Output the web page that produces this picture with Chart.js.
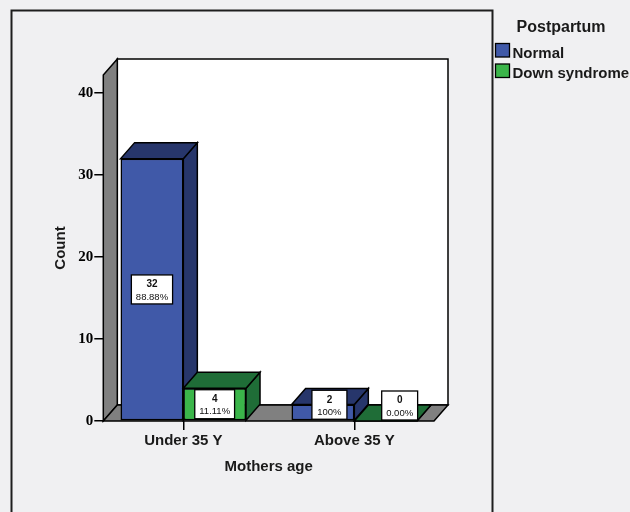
<!DOCTYPE html>
<html>
<head>
<meta charset="utf-8">
<script src="https://cdn.jsdelivr.net/npm/chart.js@4.4.1/dist/chart.umd.min.js"></script>
<style>
  html, body { margin: 0; padding: 0; background: #f0f0f2; }
  #wrap { width: 630px; height: 512px; }
</style>
</head>
<body>
<div id="wrap"><canvas id="c" width="630" height="512"></canvas></div>
<script>
// Counts of postpartum outcome by mother's age group
const categories = ['Under 35 Y', 'Above 35 Y'];
const seriesNames = ['Normal', 'Down syndrome'];
const normalCounts = [32, 2];
const downCounts = [4, 0];
const normalPercents = ['88.88%', '100%'];
const downPercents = ['11.11%', '0.00%'];
const yTicks = [0, 10, 20, 30, 40];
const legendTitle = 'Postpartum';
const xTitle = 'Mothers age';
const yTitle = 'Count';

// Styling
const FRONT = ['#4059a8', '#3bb54a'];
const SHADE = ['#27366b', '#1f6d37'];
const WALL = '#808080';
const BG = '#f0f0f2';
const DX = 14, DY = 16;           // depth of the pseudo-3D extrusion
const SANS = '"Liberation Sans", Arial, sans-serif';
const SERIF = '"Liberation Serif", "Times New Roman", serif';

function poly(ctx, pts, fill) {
  ctx.beginPath();
  ctx.moveTo(pts[0][0], pts[0][1]);
  for (let k = 1; k < pts.length; k++) ctx.lineTo(pts[k][0], pts[k][1]);
  ctx.closePath();
  ctx.fillStyle = fill;
  ctx.fill();
  ctx.stroke();
}

// Page background and outer frame
const framePlugin = {
  id: 'frame',
  beforeDraw(chart) {
    const ctx = chart.ctx;
    ctx.save();
    ctx.fillStyle = BG;
    ctx.fillRect(0, 0, chart.width, chart.height);
    ctx.strokeStyle = '#1e1e1e';
    ctx.lineWidth = 2;
    ctx.strokeRect(11.5, 10.5, 481, 600);
    ctx.restore();
  }
};

// Back wall, side wall and floor of the 3D box
const wallsPlugin = {
  id: 'walls',
  beforeDatasetsDraw(chart) {
    const ctx = chart.ctx;
    const { left, right, top, bottom } = chart.chartArea;
    ctx.save();
    ctx.strokeStyle = '#000';
    ctx.lineWidth = 1.5;
    ctx.lineJoin = 'miter';
    poly(ctx, [[left + DX, top - DY], [right + DX, top - DY], [right + DX, bottom - DY], [left + DX, bottom - DY]], '#ffffff');
    poly(ctx, [[left, top], [left + DX, top - DY], [left + DX, bottom - DY], [left, bottom]], WALL);
    poly(ctx, [[left, bottom], [left + DX, bottom - DY], [right + DX, bottom - DY], [right, bottom]], WALL);
    ctx.restore();
  }
};

// Top and side faces of every bar, then value boxes
const barsPlugin = {
  id: 'bars3d',
  afterDatasetsDraw(chart) {
    const ctx = chart.ctx;
    const metas = chart.data.datasets.map((_, d) => chart.getDatasetMeta(d));
    ctx.save();
    ctx.strokeStyle = '#000';
    ctx.lineWidth = 1.5;
    ctx.lineJoin = 'miter';
    for (let i = 0; i < categories.length; i++) {
      metas.forEach((meta, d) => {
        const el = meta.data[i];
        const { x, y, base, width } = el.getProps(['x', 'y', 'base', 'width'], true);
        const l = x - width / 2, r = x + width / 2;
        const shade = chart.data.datasets[d].shadeColor;
        poly(ctx, [[r, y], [r + DX, y - DY], [r + DX, base - DY], [r, base]], shade);
        poly(ctx, [[l, y], [l + DX, y - DY], [r + DX, y - DY], [r, y]], shade);
        if (base - y > 0.5) el.draw(ctx);
      });
    }
    // value boxes
    ctx.textAlign = 'center';
    ctx.textBaseline = 'middle';
    metas.forEach((meta, d) => {
      const ds = chart.data.datasets[d];
      meta.data.forEach((el, i) => {
        const { x, y, base } = el.getProps(['x', 'y', 'base'], true);
        const countText = String(ds.data[i].y);
        const pctText = ds.percents[i];
        ctx.font = 'bold 10px ' + SANS;
        const w1 = ctx.measureText(countText).width;
        ctx.font = '9.5px ' + SANS;
        const w2 = ctx.measureText(pctText).width;
        const w = Math.max(35, Math.max(w1, w2) + 9);
        const h = 29;
        const face = base - y;
        const cx = x + DX * Math.max(0, 1 - face / h);
        const cy = Math.min((y + base) / 2, base - 1 - h / 2);
        ctx.fillStyle = '#ffffff';
        ctx.lineWidth = 1.3;
        ctx.fillRect(cx - w / 2, cy - h / 2, w, h);
        ctx.strokeRect(cx - w / 2, cy - h / 2, w, h);
        ctx.fillStyle = '#111';
        ctx.font = 'bold 10px ' + SANS;
        ctx.fillText(countText, cx, cy - 5);
        ctx.font = '9.5px ' + SANS;
        ctx.fillText(pctText, cx, cy + 7.5);
      });
    });
    ctx.restore();
  }
};

// Legend at the top right
const legendPlugin = {
  id: 'sideLegend',
  afterDraw(chart) {
    const ctx = chart.ctx;
    ctx.save();
    ctx.fillStyle = '#1a1a1a';
    ctx.textBaseline = 'alphabetic';
    ctx.textAlign = 'center';
    ctx.font = 'bold 16px ' + SANS;
    ctx.fillText(legendTitle, 561, 31.5);
    ctx.textAlign = 'left';
    ctx.font = 'bold 15px ' + SANS;
    ctx.strokeStyle = '#000';
    ctx.lineWidth = 1.3;
    chart.data.datasets.forEach((ds, d) => {
      const top = 43.5 + d * 20.5;
      ctx.fillStyle = ds.backgroundColor;
      ctx.fillRect(495.5, top, 14, 13.5);
      ctx.strokeRect(495.5, top, 14, 13.5);
      ctx.fillStyle = '#1a1a1a';
      ctx.fillText(ds.label, 512.5, top + 14);
    });
    ctx.restore();
  }
};

const seriesCounts = [normalCounts, downCounts];
const seriesPercents = [normalPercents, downPercents];

new Chart(document.getElementById('c'), {
  type: 'bar',
  data: {
    datasets: seriesNames.map((name, d) => ({
      label: name,
      data: seriesCounts[d].map((v, i) => ({ x: i, y: v })),
      percents: seriesPercents[d],
      backgroundColor: FRONT[d],
      shadeColor: SHADE[d],
      borderColor: '#000',
      borderWidth: 1.5,
      borderSkipped: false,
      categoryPercentage: 0.7333,
      barPercentage: 1
    }))
  },
  options: {
    responsive: false,
    animation: false,
    devicePixelRatio: 1,
    layout: { padding: { left: 0, top: 75, right: 196, bottom: 0 } },
    plugins: { legend: { display: false }, tooltip: { enabled: false } },
    scales: {
      x: {
        type: 'linear',
        min: -0.468,
        max: 1.466,
        offset: false,
        afterBuildTicks: s => { s.ticks = categories.map((_, i) => ({ value: i })); },
        afterFit: s => { s.height = 91; },
        ticks: {
          callback: v => categories[v] ?? '',
          font: { family: SANS, size: 15, weight: 'bold' },
          color: '#1a1a1a',
          padding: 2,
          maxRotation: 0,
          autoSkip: false
        },
        grid: { display: true, offset: false, drawOnChartArea: false, drawTicks: true, tickLength: 9, color: '#000', lineWidth: 1.5 },
        border: { display: false },
        title: {
          display: true, text: xTitle, color: '#1a1a1a',
          font: { family: SANS, size: 15, weight: 'bold' },
          padding: { top: 0, bottom: 36.3 }
        }
      },
      y: {
        min: 0,
        max: 42.2,
        afterBuildTicks: s => { s.ticks = yTicks.map(v => ({ value: v })); },
        afterFit: s => { s.width = 103.3; },
        ticks: {
          font: { family: SERIF, size: 15, weight: 'bold' },
          color: '#000',
          padding: 1
        },
        grid: { display: true, drawOnChartArea: false, drawTicks: true, tickLength: 9, color: '#000', lineWidth: 1.5 },
        border: { display: false },
        title: {
          display: true, text: yTitle, color: '#1a1a1a',
          font: { family: SANS, size: 15, weight: 'bold' },
          padding: { top: 52, bottom: 0 }
        }
      }
    }
  },
  plugins: [framePlugin, wallsPlugin, barsPlugin, legendPlugin]
});
</script>
</body>
</html>
